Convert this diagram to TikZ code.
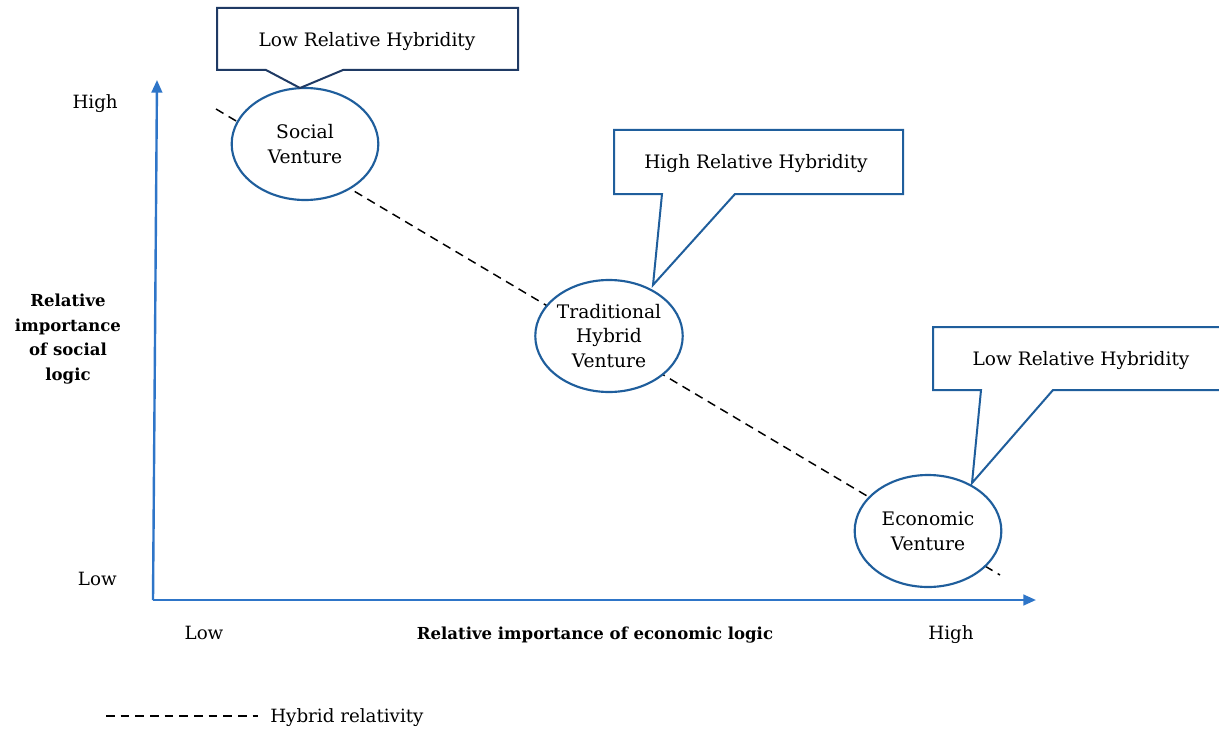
\documentclass[tikz,border=0pt]{standalone}
\usepackage{fontspec}
\setmainfont{DejaVu Serif}
\usetikzlibrary{arrows.meta,shapes.geometric}
\definecolor{axisblue}{HTML}{2E75C8}
\definecolor{ellblue}{HTML}{1F5E9C}
\definecolor{navy}{HTML}{1F3A64}
\tikzset{
  venture/.style={ellipse, draw=ellblue, line width=1.6pt, fill=white,
    minimum width=110pt, minimum height=84pt, inner sep=0pt, align=center,
    font=\fontsize{14}{18.5}\selectfont},
  calloutline/.style={line width=1.5pt, fill=white, line join=miter},
  callouttext/.style={font=\fontsize{13.9}{16}\selectfont, inner sep=0pt},
  axis/.style={draw=axisblue, line width=1.8pt, -{Triangle[length=9.5pt,width=8pt]}},
  hybrid/.style={black, line width=1.1pt, dash pattern=on 6.5pt off 4.5pt},
  ticklabel/.style={font=\fontsize{13.7}{16}\selectfont, inner sep=0pt},
  axislabel/.style={font=\bfseries\fontsize{12.4}{18.4}\selectfont, inner sep=0pt, align=center},
}
\begin{document}
\begin{tikzpicture}[x=0.75pt,y=-0.75pt]
\useasboundingbox (0,0) rectangle (1219,731);
\clip (0,0) rectangle (1219,731);

% axes
\coordinate (origin) at (153,600);
\coordinate (ytop) at (157,80);
\coordinate (xend) at (1036,600);
\draw[axis] (origin) -- (ytop);
\draw[axis] (origin) -- (xend);

% diagonal of hybrid relativity, behind the ventures
\coordinate (dstart) at (216,109);
\coordinate (dend) at (1000,575);
\draw[hybrid] (dstart) -- (dend);

% ventures
\node[venture] (social) at (305,144) {Social\\Venture};
\node[venture] (trad) at (609,336) {Traditional\\Hybrid\\Venture};
\node[venture] (econ) at (928,531) {Economic\\Venture};

% callout over the social venture
\draw[calloutline, draw=navy] (217,8) -- (518,8) -- (518,70) -- (343,70)
  -- (300,88) -- (266,70) -- (217,70) -- cycle;
\node[callouttext] (c1) at (367,42) {Low Relative Hybridity};

% callout over the traditional hybrid venture
\draw[calloutline, draw=ellblue] (614,130) -- (903,130) -- (903,194) -- (735,194)
  -- (653,285) -- (662,194) -- (614,194) -- cycle;
\node[callouttext] (c2) at (756,164) {High Relative Hybridity};

% callout over the economic venture
\draw[calloutline, draw=ellblue] (933,327) -- (1224,327) -- (1224,390) -- (1053,390)
  -- (972,483) -- (981,390) -- (933,390) -- cycle;
\node[callouttext] (c3) at (1081,361) {Low Relative Hybridity};

% axis ticks and titles
\node[ticklabel, anchor=east] (yhigh) at (118,104) {High};
\node[ticklabel, anchor=east] (ylow) at (117,579) {Low};
\node[ticklabel] (xlow) at (204,633) {Low};
\node[ticklabel] (xhigh) at (951,635) {High};
\node[axislabel] (xtitle) at (595,635) {Relative importance of economic logic};
\node[axislabel] (ytitle) at (68,339) {Relative\\importance\\of social\\logic};

% legend
\coordinate (lega) at (106,716);
\coordinate (legb) at (258,716);
\draw[hybrid] (lega) -- (legb);
\node[ticklabel, anchor=west] (legtext) at (270,718) {Hybrid relativity};
\end{tikzpicture}
\end{document}
